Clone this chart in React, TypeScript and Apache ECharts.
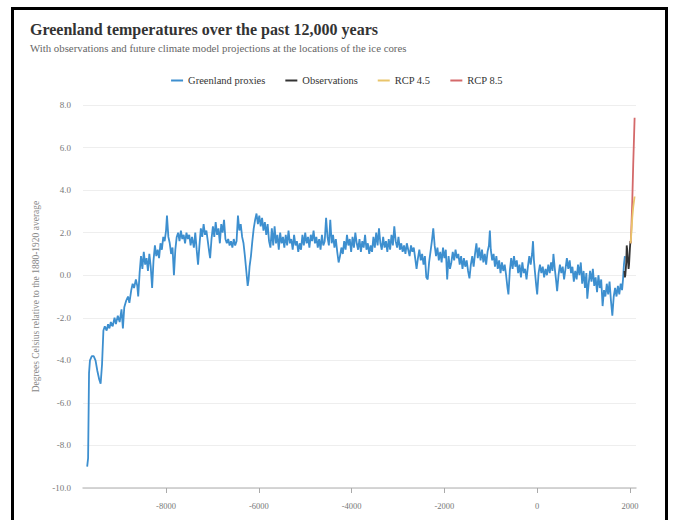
import React, { useEffect, useRef } from "react";
import * as echarts from "echarts";

const TITLE = "Greenland temperatures over the past 12,000 years";
const SUBTITLE = "With observations and future climate model projections at the locations of the ice cores";
const Y_NAME = "Degrees Celsius relative to the 1880-1920 average";

const xTicks = [-8000, -6000, -4000, -2000, 0, 2000];

const proxyEarly: [number, number][] = [
  [-9700, -9.0], [-9680, -8.6], [-9660, -4.6], [-9640, -4.0], [-9600, -3.8], [-9560, -3.8],
  [-9520, -4.0], [-9480, -4.5], [-9440, -4.9], [-9410, -5.1], [-9380, -4.2], [-9350, -2.6],
  [-9320, -2.4], [-9280, -2.6], [-9250, -2.3], [-9220, -2.5], [-9190, -2.2], [-9150, -2.4],
  [-9110, -2.0], [-9080, -2.3], [-9040, -1.9], [-9000, -2.2], [-8960, -1.6], [-8930, -2.5],
  [-8900, -1.5], [-8860, -1.2], [-8820, -1.0], [-8790, -1.3], [-8750, -0.7], [-8720, -0.4],
  [-8690, -0.6], [-8650, -0.2], [-8620, -0.5], [-8600, -1.0], [-8570, 0.1], [-8540, 0.9],
  [-8510, 0.3], [-8480, 1.1], [-8450, 0.5], [-8420, 0.8], [-8390, 0.2], [-8360, 1.0],
  [-8330, 0.4], [-8300, -0.6], [-8270, 0.7], [-8240, 1.4], [-8210, 0.9], [-8180, 1.2],
  [-8150, 0.8], [-8120, 1.5], [-8090, 1.2], [-8060, 1.8], [-8030, 1.6], [-8000, 2.1],
  [-7980, 2.8], [-7950, 1.8], [-7920, 1.5], [-7890, 1.0], [-7860, 1.3], [-7830, 0.0],
  [-7800, 1.2], [-7770, 1.8], [-7740, 2.0], [-7710, 1.6], [-7680, 2.1], [-7650, 1.7],
  [-7620, 1.9], [-7590, 1.5], [-7560, 2.0], [-7530, 1.7], [-7500, 1.9], [-7470, 1.4],
  [-7440, 1.8], [-7400, 1.3], [-7370, 2.0], [-7340, 1.2], [-7310, 0.5], [-7280, 1.4],
  [-7250, 2.2], [-7220, 1.8], [-7190, 2.4], [-7160, 1.9], [-7130, 2.1], [-7100, 1.6],
  [-7070, 1.1], [-7050, 0.8], [-7020, 1.7], [-6990, 2.3], [-6960, 1.8], [-6930, 2.5],
  [-6900, 1.9], [-6870, 2.2], [-6840, 1.5], [-6810, 2.4], [-6780, 2.0], [-6750, 2.6],
  [-6720, 1.7], [-6690, 1.5], [-6660, 1.7], [-6630, 1.4], [-6600, 1.6], [-6570, 1.3],
  [-6540, 1.7], [-6510, 1.4], [-6480, 1.6], [-6450, 2.8], [-6420, 2.1], [-6390, 2.4],
  [-6360, 1.8], [-6330, 1.5], [-6300, 0.9], [-6270, 0.2], [-6240, -0.5], [-6220, -0.2],
  [-6200, 0.4], [-6170, 0.9], [-6140, 1.6], [-6110, 2.2], [-6080, 2.6], [-6050, 2.9],
  [-6020, 2.4], [-5990, 2.8], [-5960, 2.3], [-5930, 2.7], [-5900, 2.1], [-5870, 2.5],
  [-5840, 1.9], [-5810, 2.4], [-5780, 1.6], [-5750, 1.3], [-5720, 2.2], [-5690, 1.4],
];

const proxyMiddle: [number, number][] = [
  [-5660, 2.3], [-5630, 1.5], [-5600, 1.9], [-5570, 1.2], [-5540, 2.0], [-5510, 1.5],
  [-5480, 1.8], [-5450, 1.3], [-5420, 1.9], [-5390, 1.4], [-5360, 2.1], [-5330, 1.5],
  [-5300, 1.7], [-5270, 1.2], [-5240, 1.9], [-5210, 1.4], [-5180, 1.6], [-5150, 1.1],
  [-5120, 1.5], [-5090, 1.2], [-5060, 1.9], [-5030, 1.4], [-5000, 2.0], [-4970, 1.5],
  [-4940, 1.8], [-4910, 1.3], [-4880, 1.9], [-4850, 1.6], [-4820, 2.1], [-4790, 1.5],
  [-4760, 1.8], [-4730, 1.3], [-4700, 1.7], [-4670, 1.2], [-4640, 1.9], [-4610, 1.4],
  [-4580, 1.6], [-4550, 2.7], [-4520, 1.8], [-4490, 1.4], [-4460, 2.6], [-4430, 1.5],
  [-4400, 1.9], [-4370, 1.3], [-4340, 1.7], [-4310, 1.1], [-4280, 0.6], [-4250, 0.9],
  [-4220, 1.3], [-4190, 1.0], [-4160, 1.6], [-4130, 1.2], [-4100, 1.9], [-4070, 1.4],
  [-4040, 1.7], [-4010, 1.1], [-3980, 1.8], [-3950, 1.3], [-3920, 2.0], [-3890, 1.5],
  [-3860, 1.2], [-3830, 1.7], [-3800, 1.1], [-3770, 1.6], [-3740, 1.3], [-3710, 1.9],
  [-3680, 1.2], [-3650, 1.5], [-3620, 1.0], [-3590, 1.4], [-3560, 1.1], [-3530, 1.8],
  [-3500, 1.3], [-3470, 2.0], [-3440, 1.4], [-3410, 2.2], [-3380, 1.5], [-3350, 1.2],
  [-3320, 1.8], [-3290, 1.3], [-3260, 1.6], [-3230, 1.1], [-3200, 1.7], [-3170, 1.2],
  [-3140, 1.9], [-3110, 1.4], [-3080, 2.3], [-3050, 1.6], [-3020, 1.3], [-2990, 1.8],
  [-2960, 1.2], [-2930, 1.5], [-2900, 1.1], [-2870, 1.4], [-2840, 1.0], [-2810, 1.5],
  [-2780, 1.2], [-2750, 0.9], [-2720, 1.4], [-2690, 1.1], [-2660, 1.3], [-2630, 0.8],
  [-2600, 0.3], [-2570, 0.8], [-2540, 1.2], [-2510, 0.7], [-2480, 1.0], [-2450, 0.5],
  [-2420, 0.9], [-2390, -0.1], [-2360, -0.2], [-2330, 0.6], [-2300, 1.1], [-2270, 1.6],
  [-2240, 2.2], [-2210, 1.4], [-2180, 0.9], [-2150, 1.3], [-2120, 0.7], [-2090, 1.1],
  [-2060, 0.6], [-2030, 1.3], [-2000, 0.8], [-1970, 1.2], [-1940, -0.2], [-1910, 0.9],
  [-1880, 0.3], [-1850, 0.6], [-1820, 1.1], [-1790, 0.7], [-1760, 1.2], [-1730, 0.8],
];

const proxyLate: [number, number][] = [
  [-1700, 1.0], [-1670, 0.5], [-1640, 0.9], [-1610, 0.3], [-1580, 0.8], [-1550, 0.4],
  [-1520, 0.7], [-1490, 0.2], [-1460, -0.15], [-1430, 0.5], [-1400, 0.9], [-1370, 0.4],
  [-1340, 1.0], [-1310, 1.5], [-1280, 0.8], [-1250, 1.3], [-1220, 0.7], [-1190, 1.2],
  [-1160, 0.6], [-1130, 1.0], [-1100, 0.5], [-1070, 1.1], [-1040, 1.4], [-1020, 2.1],
  [-1000, 1.2], [-970, 0.7], [-940, 1.0], [-910, 0.4], [-880, 0.9], [-850, 0.3],
  [-820, 0.7], [-790, 0.1], [-760, 0.6], [-730, 0.2], [-700, 0.5], [-670, 0.0],
  [-640, -0.6], [-620, -0.9], [-590, 0.2], [-560, 0.8], [-530, 0.3], [-500, 0.9],
  [-470, 0.4], [-440, 0.7], [-410, 0.1], [-380, 0.5], [-350, -0.1], [-320, 0.6],
  [-290, 0.1], [-260, 0.3], [-230, -0.2], [-200, 0.4], [-170, 0.9], [-140, 0.5],
  [-110, 1.0], [-90, 1.6], [-70, 0.7], [-50, 0.2], [-20, -0.5], [0, -0.9],
  [30, 0.1], [60, 0.5], [90, 0.1], [120, 0.4], [150, -0.1], [180, 0.3],
  [210, 0.0], [240, 0.5], [270, 0.1], [300, 0.6], [330, 0.2], [350, 1.0],
  [380, 0.3], [410, -0.3], [430, -0.75], [460, 0.0], [490, 0.5], [520, 0.1],
  [550, 0.4], [580, -0.2], [610, 0.3], [640, 0.8], [670, 0.3], [700, 0.7],
  [730, 0.1], [760, 0.4], [790, -0.3], [820, 0.2], [850, -0.2], [880, 0.5],
  [910, 0.0], [940, 0.6], [970, -0.4], [1000, 0.2], [1030, -0.6], [1060, 0.1],
  [1080, -1.1], [1110, -0.4], [1140, 0.2], [1170, -0.3], [1200, 0.3], [1230, -0.5],
  [1260, -0.1], [1290, -0.8], [1320, 0.0], [1350, -0.6], [1380, -0.2], [1410, -1.45],
  [1440, -0.7], [1470, -1.0], [1500, -0.4], [1530, -0.9], [1560, -0.3], [1590, -1.2],
  [1620, -1.9], [1650, -1.0], [1680, -0.6], [1710, -1.0], [1740, -0.5], [1770, -0.9],
  [1800, -0.4], [1830, -0.7], [1850, -0.2], [1870, 0.5], [1890, 0.9],
];

const observations: [number, number][] = [
  [1880, 0.2], [1890, -0.1], [1900, 0.0], [1910, 0.3], [1920, 0.6], [1930, 1.4],
  [1940, 1.2], [1950, 0.8], [1960, 0.6], [1970, 0.3], [1980, 0.5], [1990, 0.9],
  [2000, 1.3], [2010, 1.6], [2015, 1.5],
];

const rcp45: [number, number][] = [
  [2015, 1.5], [2030, 2.0], [2050, 2.7], [2070, 3.2], [2100, 3.7],
];

const rcp85: [number, number][] = [
  [2015, 1.5], [2030, 2.2], [2050, 3.5], [2070, 5.2], [2100, 7.4],
];

const FONT = "'Liberation Serif', 'Times New Roman', serif";

export default function App() {
  const ref = useRef<HTMLDivElement>(null);

  useEffect(() => {
    document.body.style.overflow = "hidden";
    if (!ref.current) return;
    const chart = echarts.init(ref.current, undefined, { renderer: "svg" });
    const proxy = [...proxyEarly, ...proxyMiddle, ...proxyLate];
    chart.setOption({
      animation: false,
      backgroundColor: "transparent",
      textStyle: { fontFamily: FONT },
      title: {
        text: TITLE,
        subtext: SUBTITLE,
        left: 25,
        top: 16,
        itemGap: 5,
        textStyle: { fontFamily: FONT, fontSize: 16, fontWeight: "bold", color: "#333" },
        subtextStyle: { fontFamily: FONT, fontSize: 10.8, color: "#666" },
      },
      legend: {
        top: 70,
        left: "center",
        icon: "rect",
        itemWidth: 12,
        itemHeight: 2,
        itemGap: 20,
        textStyle: { fontFamily: FONT, fontSize: 10.5, color: "#333" },
        data: ["Greenland proxies", "Observations", "RCP 4.5", "RCP 8.5"],
      },
      grid: { left: 83, right: 38, top: 105, bottom: 32 },
      xAxis: {
        type: "value",
        min: -9790,
        max: 2130,
        splitLine: { show: false },
        axisLine: { show: true, onZero: false, lineStyle: { color: "#c8c8c8", width: 1.5 } },
        axisTick: { show: true, length: 5, lineStyle: { color: "#aaa" }, customValues: xTicks },
        axisLabel: {
          customValues: xTicks,
          margin: 13,
          fontFamily: FONT,
          fontSize: 8.5,
          color: "#777",
          formatter: (v: number) => String(v),
        },
      },
      yAxis: {
        type: "value",
        min: -10,
        max: 8,
        interval: 2,
        name: Y_NAME,
        nameLocation: "middle",
        nameGap: 35,
        nameTextStyle: { fontFamily: FONT, fontSize: 9.5, color: "#888" },
        axisLine: { show: false },
        axisTick: { show: false },
        splitLine: { lineStyle: { color: "#eeeeee" } },
        axisLabel: {
          margin: 12,
          fontFamily: FONT,
          fontSize: 9,
          color: "#777",
          formatter: (v: number) => v.toFixed(1),
        },
      },
      series: [
        {
          name: "Greenland proxies",
          type: "line",
          data: proxy,
          showSymbol: false,
          symbol: "none",
          lineStyle: { color: "#3d8fcf", width: 1.8 },
          itemStyle: { color: "#3d8fcf" },
          z: 2,
        },
        {
          name: "Observations",
          type: "line",
          data: observations,
          symbol: "none",
          lineStyle: { color: "#333333", width: 1.8 },
          itemStyle: { color: "#333333" },
          z: 3,
        },
        {
          name: "RCP 8.5",
          type: "line",
          data: rcp85,
          symbol: "none",
          lineStyle: { color: "#d4696a", width: 1.8 },
          itemStyle: { color: "#d4696a" },
          z: 4,
        },
        {
          name: "RCP 4.5",
          type: "line",
          data: rcp45,
          symbol: "none",
          lineStyle: { color: "#e9c46a", width: 1.8 },
          itemStyle: { color: "#e9c46a" },
          z: 5,
        },
      ],
    });
    return () => chart.dispose();
  }, []);

  return (
    <>
      <div
        ref={ref}
        style={{ position: "absolute", left: 0, top: 0, width: 674, height: 520 }}
      />
      <div
        style={{
          position: "absolute",
          left: 11,
          top: 7,
          width: 657,
          height: 513,
          boxSizing: "border-box",
          borderLeft: "3px solid #000",
          borderRight: "3px solid #000",
          borderTop: "3px solid #000",
          pointerEvents: "none",
        }}
      />
    </>
  );
}
